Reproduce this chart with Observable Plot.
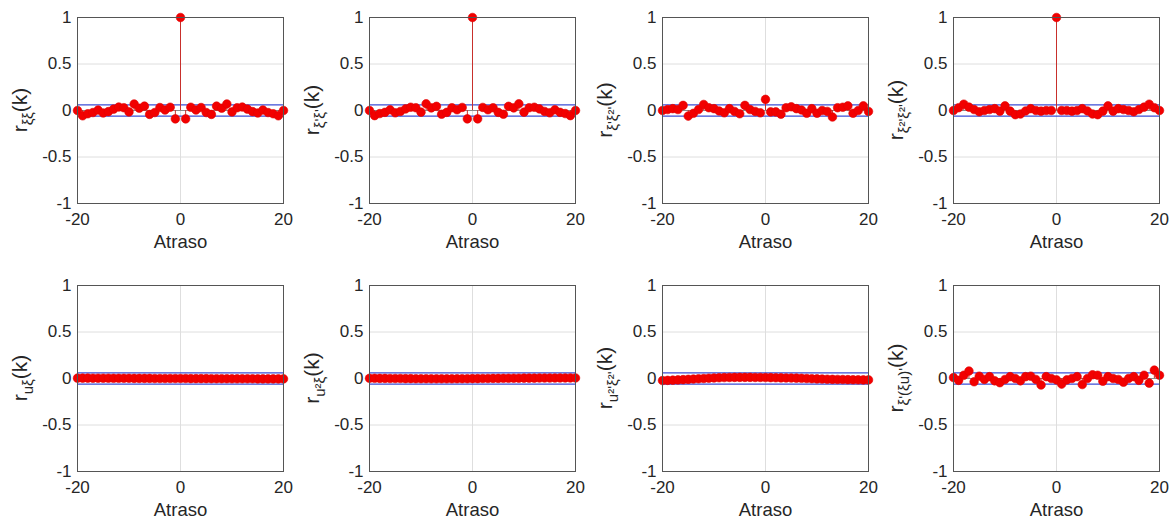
<!DOCTYPE html>
<html><head><meta charset="utf-8">
<script src="https://cdn.jsdelivr.net/npm/d3@7"></script>
<script src="https://cdn.jsdelivr.net/npm/@observablehq/plot@0.6"></script>
<style>
body{margin:0;background:#fff;}
#wrap{position:relative;width:1176px;height:528px;font-family:"Liberation Sans",Arial,sans-serif;}
#wrap svg{position:absolute;overflow:visible;}
</style></head><body><div id="wrap"></div>
<script>
// ---- data ----
const lags = [-20,-19,-18,-17,-16,-15,-14,-13,-12,-11,-10,-9,-8,-7,-6,-5,-4,-3,-2,-1,0,1,2,3,4,5,6,7,8,9,10,11,12,13,14,15,16,17,18,19,20];
const xTicks = [-20, 0, 20];
const yTicks = [-1, -0.5, 0, 0.5, 1];
const xLabel = "Atraso";
const confBound = [-0.06, 0.06];

const r_xixi = [0.0,-0.057,-0.035,-0.022,0.005,-0.027,-0.012,0.015,0.037,0.03,-0.015,0.07,0.025,0.047,-0.042,-0.022,0.032,0.005,0.035,-0.09,
  1.0,
  -0.09,0.035,0.005,0.032,-0.022,-0.042,0.047,0.025,0.07,-0.015,0.03,0.037,0.015,-0.012,-0.027,0.005,-0.022,-0.035,-0.057,0.0];
const r_xipxip = [0.0,-0.055,-0.033,-0.02,0.008,-0.025,-0.01,0.017,0.035,0.03,-0.018,0.072,0.028,0.045,-0.04,-0.02,0.03,0.008,0.033,-0.09,
  1.0,
  -0.09,0.033,0.008,0.03,-0.02,-0.04,0.045,0.028,0.072,-0.018,0.03,0.035,0.017,-0.01,-0.025,0.008,-0.02,-0.033,-0.055,0.0];
const r_xipxi2p = [0.0,0.01,0.02,0.01,0.055,-0.06,-0.03,0.01,0.065,0.03,0.02,-0.005,-0.025,0.02,-0.01,-0.035,0.055,0.01,-0.01,-0.025,
  0.12,
  -0.015,-0.015,-0.04,0.03,0.04,0.02,0.005,-0.03,0.02,-0.03,0.0,-0.01,-0.07,0.03,0.035,0.05,-0.03,0.0,0.05,-0.01];
const r_xi2pxi2p = [0.0,0.03,0.068,0.036,0.01,-0.014,0.0,0.01,0.02,-0.007,0.05,-0.007,-0.045,-0.038,-0.005,0.02,0.0,-0.007,0.0,0.0,
  1.0,
  0.0,0.0,-0.007,0.0,0.02,-0.005,-0.038,-0.045,-0.007,0.05,-0.007,0.02,0.01,0.0,-0.014,0.01,0.036,0.068,0.03,0.0];
const r_uxi = [0.004,0.004,0.004,0.003,0.003,0.003,0.003,0.002,0.002,0.002,0.002,0.001,0.001,0.001,0.001,0.0,0.0,0.0,0.0,0.0,
  0.0,
  0.0,-0.001,-0.001,-0.001,-0.001,-0.002,-0.002,-0.002,-0.002,-0.003,-0.003,-0.003,-0.003,-0.003,-0.004,-0.004,-0.004,-0.004,-0.004,-0.004];
const r_u2xi = [0.002,0.002,0.001,0.001,0.0,0.0,0.0,-0.001,-0.001,-0.002,-0.002,-0.002,-0.003,-0.003,-0.003,-0.003,-0.003,-0.002,-0.002,-0.002,
  -0.001,
  -0.001,0.0,0.0,0.001,0.001,0.002,0.002,0.003,0.003,0.004,0.004,0.004,0.005,0.005,0.005,0.005,0.006,0.006,0.006,0.006];
const r_u2pxi2p = [-0.022,-0.02,-0.018,-0.015,-0.012,-0.009,-0.006,-0.003,0.0,0.003,0.006,0.008,0.01,0.011,0.012,0.012,0.012,0.012,0.011,0.011,
  0.01,
  0.009,0.008,0.007,0.006,0.005,0.004,0.002,0.0,-0.002,-0.004,-0.006,-0.008,-0.009,-0.01,-0.011,-0.012,-0.013,-0.014,-0.015,-0.015];
const r_xipxiup = [0.01,-0.02,0.035,0.08,-0.035,0.025,-0.01,0.02,-0.025,-0.045,-0.01,0.02,0.0,-0.025,0.02,0.025,-0.01,-0.07,0.02,0.0,
  -0.015,
  -0.06,-0.015,0.0,0.02,-0.065,0.0,0.04,0.035,-0.03,0.02,0.0,-0.01,-0.04,0.0,0.02,-0.02,0.035,-0.05,0.09,0.035];

const series = [r_xixi, r_xipxip, r_xipxi2p, r_xi2pxi2p, r_uxi, r_u2xi, r_u2pxi2p, r_xipxiup];
const subs = ["ξξ", "ξ'ξ'", "ξ'ξ²'", "ξ²'ξ²'", "uξ", "u²ξ", "u²'ξ²'", "ξ'(ξu)'"];

// ---- layout ----
const colLeft = [0, 292, 585, 876];
const rowTop = [0, 268];
const W = 292, H = 260, mL = 77, mR = 9, mT = 17, mB = 57;
const fmt = d => String(d);

const wrap = document.getElementById("wrap");
series.forEach((vals, i) => {
  const col = i % 4, row = Math.floor(i / 4);
  const data = lags.map((k, j) => ({k, v: vals[j]}));
  const svg = Plot.plot({
    width: W, height: H,
    marginLeft: mL, marginRight: mR, marginTop: mT, marginBottom: mB,
    style: {fontFamily: '"Liberation Sans", Arial, sans-serif', fontSize: "17px", color: "#262626", background: "transparent", overflow: "visible"},
    x: {domain: [-20, 20]},
    y: {domain: [-1, 1]},
    marks: [
      Plot.gridX(xTicks, {stroke: "#dedede", strokeOpacity: 1}),
      Plot.gridY(yTicks, {stroke: "#dedede", strokeOpacity: 1}),
      Plot.ruleY(confBound, {x1: -20, x2: 20, stroke: "#3d4ed6", strokeWidth: 1.1}),
      Plot.ruleY([0], {x1: -20, x2: 20, stroke: "#8a8a8a", strokeWidth: 1}),
      Plot.ruleX(data, {x: "k", y1: 0, y2: "v", stroke: "#c8302c", strokeWidth: 1}),
      Plot.dot(data, {x: "k", y: "v", r: 4.3, fill: "#f20000", stroke: "#e00000", strokeWidth: 0.6}),
      Plot.frame({stroke: "#555", strokeWidth: 1}),
      Plot.axisX(xTicks, {tickSize: 0, tickPadding: 9, tickFormat: fmt, label: null, fontSize: 17}),
      Plot.axisY(yTicks, {tickSize: 0, tickPadding: 6, tickFormat: fmt, label: null, fontSize: 17}),
      Plot.text([xLabel], {frameAnchor: "bottom", dy: 44, fontSize: 18.5, fill: "#262626"})
    ]
  });
  svg.style.left = colLeft[col] + "px";
  svg.style.top = rowTop[row] + "px";
  const cy = mT + (H - mT - mB) / 2;
  const t = d3.select(svg).append("text")
    .attr("transform", `translate(27,${cy}) rotate(-90)`)
    .attr("text-anchor", "middle")
    .attr("fill", "#262626")
    .style("font-size", "21px");
  t.append("tspan").text("r");
  t.append("tspan").attr("dy", 6).style("font-size", "15px").text(subs[i]);
  t.append("tspan").attr("dy", -6).text("(k)");
  wrap.appendChild(svg);
});
</script></body></html>
